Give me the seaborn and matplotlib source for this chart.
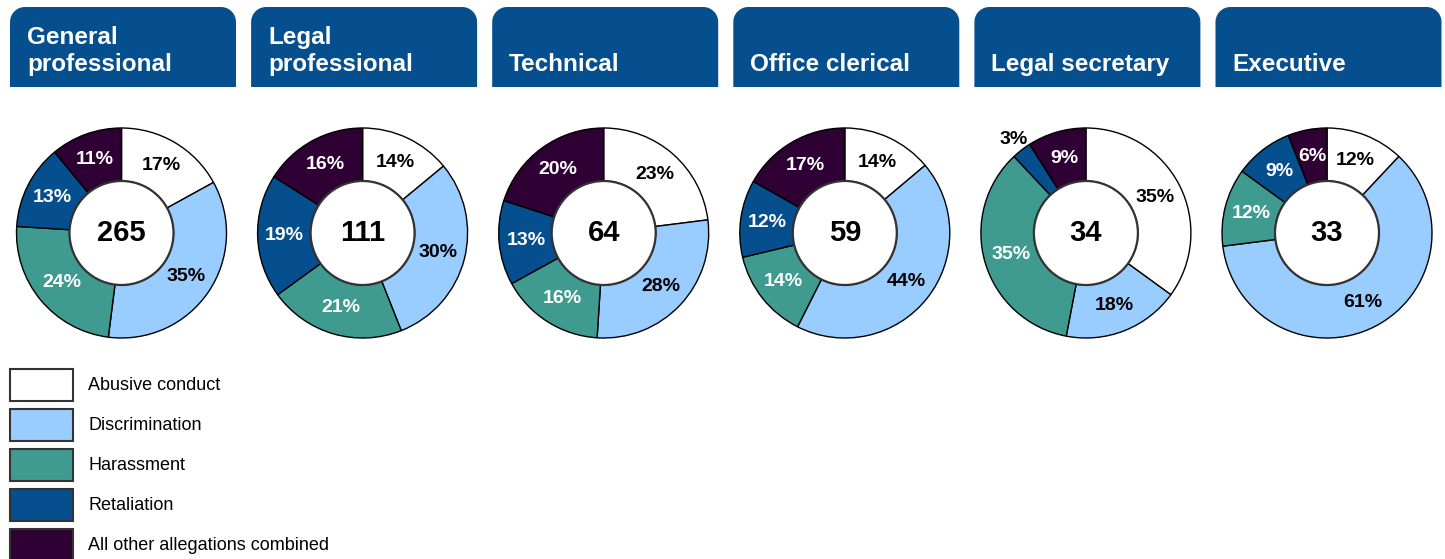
import matplotlib
matplotlib.use("Agg")
import numpy as np
import matplotlib.pyplot as plt
import seaborn as sns
from matplotlib.patches import Rectangle, Circle, Polygon

# ---------------- data ----------------
categories = ["General\nprofessional", "Legal\nprofessional", "Technical",
              "Office clerical", "Legal secretary", "Executive"]
totals = [265, 111, 64, 59, 34, 33]
allegations = ["Abusive conduct", "Discrimination", "Harassment",
               "Retaliation", "All other allegations combined"]
abusive = [17, 14, 23, 14, 35, 12]
discrimination = [35, 30, 28, 44, 18, 61]
harassment = [24, 21, 16, 14, 35, 12]
retaliation = [13, 19, 13, 12, 3, 9]
other = [11, 16, 20, 17, 9, 6]

# ---------------- style ----------------
sns.set_theme(style="white")
plt.rcParams["font.family"] = ["Liberation Sans", "DejaVu Sans"]

colors = ["#ffffff", "#99ccff", "#3f9a8f", "#054f8f", "#2e0033"]
label_colors = ["black", "black", "white", "white", "white"]
header_color = "#054f8f"

W, H = 1445, 559
fig = plt.figure(figsize=(W / 100, H / 100), dpi=100)
ax = fig.add_axes([0, 0, 1, 1])
ax.axis("off")


def Y(y):
    return H - y


def top_rounded(left, bottom, width, height, r):
    t = np.linspace(0, np.pi / 2, 20)
    right, top = left + width, bottom + height
    pts = [(left, bottom), (right, bottom)]
    pts += [(right - r + r * np.cos(a), top - r + r * np.sin(a)) for a in t]
    pts += [(left + r + r * np.cos(a), top - r + r * np.sin(a)) for a in t + np.pi / 2]
    return Polygon(pts, closed=True, fc=header_color, ec="none")


series = [abusive, discrimination, harassment, retaliation, other]
x0, dx = 121.5, 241.1
cy = 233
R_out, R_in = 105, 52
for i, cat in enumerate(categories):
    cx = x0 + i * dx
    left, width = cx - 111.5, 226
    top, bottom = 7, 87
    ax.add_patch(top_rounded(left, Y(bottom), width, bottom - top, 15))
    ax.text(left + 17, Y(71), cat, color="white", fontsize=17.5, fontweight="bold",
            ha="left", va="baseline", linespacing=1.22)

    vals = [s[i] for s in series]
    wedges, _ = ax.pie(vals, colors=colors, startangle=90, counterclock=False,
                       radius=R_out, center=(cx, Y(cy)), frame=True,
                       wedgeprops=dict(width=R_out - R_in, edgecolor="black", linewidth=1.0))
    ax.add_patch(Circle((cx, Y(cy)), R_in, fc="white", ec="#333333", lw=1.6, zorder=3))
    ax.text(cx, Y(cy), f"{totals[i]}", ha="center", va="center", fontsize=21,
            fontweight="bold", color="black", zorder=4)
    for w, v, lc in zip(wedges, vals, label_colors):
        th = np.deg2rad((w.theta1 + w.theta2) / 2)
        if v < 5:
            r, c = 118, "black"
        else:
            r, c = 78, lc
        ax.text(cx + r * np.cos(th), Y(cy) + r * np.sin(th), f"{v}%",
                ha="center", va="center", fontsize=14, fontweight="bold", color=c, zorder=4)

ax.set_xlim(0, W)
ax.set_ylim(0, H)
ax.set_aspect("equal")
ax.axis("off")

# legend
for j, (name, col) in enumerate(zip(allegations, colors)):
    ytop = 369 + j * 40
    ax.add_patch(Rectangle((10, Y(ytop + 32)), 63, 32, fc=col, ec="#333333", lw=1.5))
    ax.text(88, Y(ytop + 17), name, ha="left", va="center", fontsize=13, color="black")

fig.savefig("out.png", dpi=100)
